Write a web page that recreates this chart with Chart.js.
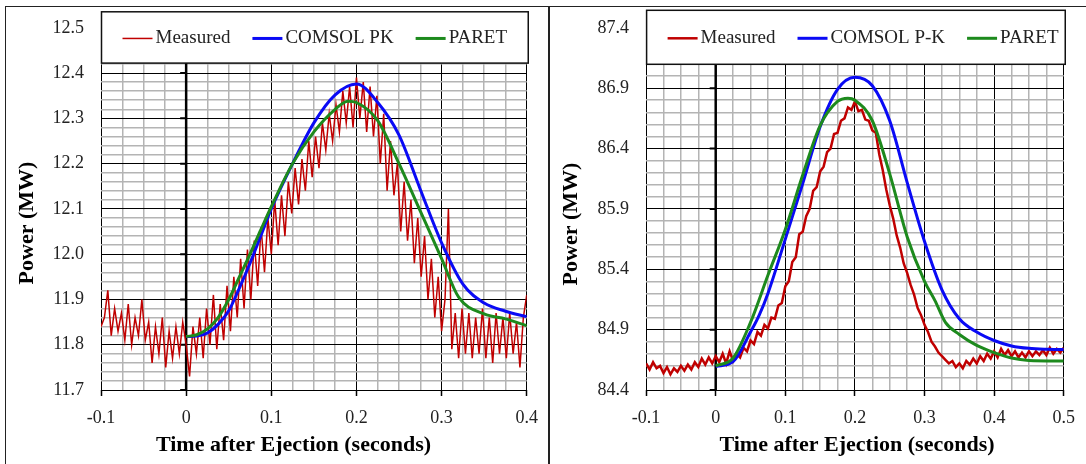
<!DOCTYPE html>
<html>
<head>
<meta charset="utf-8">
<script src="https://cdn.jsdelivr.net/npm/chart.js@4.4.1/dist/chart.umd.min.js"></script>
<style>
    html, body { margin: 0; padding: 0; background: #fff; }
    body { width: 1086px; height: 464px; position: relative; overflow: hidden; }
    .painel { position: absolute; border: 1.5px solid #222; box-sizing: border-box; }
    #painelL { left: 5px; top: 6px; width: 544px; height: 500px; }
    #painelR { left: 549px; top: 6px; width: 600px; height: 500px; }
    canvas { position: absolute; top: 0; }
    #chartL { left: 0; }
    #chartR { left: 549px; }
</style>
</head>
<body>
<div class="painel" id="painelL"></div>
<div class="painel" id="painelR"></div>
<canvas id="chartL" width="549" height="464"></canvas>
<canvas id="chartR" width="537" height="464"></canvas>
<script>
// ---- Left panel (12 MW case) ----
// measured signal, sampled every 0.004 s from -0.1 s
const measStartL = -0.1, measStepL = 0.004;
const measuredL = [
    11.84, 11.86, 11.92, 11.82, 11.88, 11.83, 11.87, 11.81, 11.89, 11.80,
    11.86, 11.82, 11.90, 11.81, 11.85, 11.76, 11.84, 11.78, 11.86, 11.75,
    11.83, 11.77, 11.84, 11.78, 11.85, 11.80, 11.73, 11.84, 11.78, 11.86,
    11.77, 11.88, 11.80, 11.91, 11.79, 11.89, 11.81, 11.93, 11.83, 11.95,
    11.86, 11.99, 11.88, 12.01, 11.90, 12.03, 11.93, 12.06, 11.96, 12.08,
    12.00, 12.12, 12.02, 12.13, 12.04, 12.16, 12.09, 12.19, 12.11, 12.21,
    12.14, 12.25, 12.17, 12.26, 12.19, 12.29, 12.23, 12.31, 12.25, 12.33,
    12.27, 12.36, 12.29, 12.37, 12.28, 12.39, 12.30, 12.38, 12.27, 12.37,
    12.26, 12.35, 12.20, 12.31, 12.14, 12.25, 12.13, 12.20, 12.05, 12.16,
    12.03, 12.12, 11.98, 12.08, 11.95, 12.04, 11.90, 11.99, 11.86, 11.95,
    11.83, 11.90, 12.10, 11.79, 11.87, 11.77, 11.88, 11.78, 11.87, 11.77,
    11.86, 11.78, 11.88, 11.77, 11.86, 11.76, 11.87, 11.78, 11.86, 11.77,
    11.87, 11.78, 11.85, 11.75, 11.86, 11.91
];
const comsolTimeL = [0, 0.0125, 0.025, 0.0375, 0.05, 0.0625, 0.075, 0.0875, 0.1, 0.125, 0.15,
    0.175, 0.2, 0.225, 0.25, 0.275, 0.3, 0.325, 0.35, 0.375, 0.4];
const comsolL = [11.818, 11.819, 11.826, 11.845, 11.875, 11.925, 11.98, 12.04, 12.10, 12.20, 12.29,
    12.352, 12.376, 12.335, 12.263, 12.143, 12.025, 11.934, 11.892, 11.874, 11.862];
const paretTimeL = [0, 0.0125, 0.025, 0.0375, 0.05, 0.0625, 0.075, 0.0875, 0.1, 0.125, 0.15,
    0.175, 0.19, 0.2, 0.225, 0.25, 0.275, 0.3, 0.32, 0.35, 0.375, 0.4];
const paretL = [11.818, 11.822, 11.835, 11.86, 11.90, 11.95, 12.0, 12.053, 12.105, 12.2, 12.27,
    12.32, 12.338, 12.335, 12.295, 12.20, 12.095, 11.99, 11.905, 11.868, 11.857, 11.842];

// ---- Right panel (85 MW case) ----
const measStartR = -0.1, measStepR = 0.005;
const measuredR = [
    84.62, 84.57, 84.63, 84.58, 84.60, 84.54, 84.59, 84.53, 84.58, 84.55,
    84.60, 84.56, 84.61, 84.57, 84.63, 84.59, 84.66, 84.61, 84.67, 84.62,
    84.68, 84.63, 84.70, 84.62, 84.72, 84.64, 84.70, 84.67, 84.75, 84.72,
    84.81, 84.78, 84.88, 84.85, 84.94, 84.91, 85.00, 84.99, 85.10, 85.12,
    85.26, 85.30, 85.46, 85.50, 85.69, 85.71, 85.84, 85.90, 86.05, 86.08,
    86.21, 86.25, 86.37, 86.40, 86.52, 86.53, 86.63, 86.65, 86.74, 86.72,
    86.79, 86.71, 86.72, 86.64, 86.63, 86.55, 86.53, 86.35, 86.22, 86.06,
    85.93, 85.82, 85.68, 85.58, 85.45, 85.37, 85.27, 85.19, 85.08, 85.02,
    84.94, 84.88, 84.80, 84.76, 84.71, 84.68, 84.65, 84.62, 84.64, 84.59,
    84.62, 84.58, 84.64, 84.61, 84.66, 84.62, 84.68, 84.64, 84.70, 84.66,
    84.72, 84.67, 84.74, 84.69, 84.73, 84.68, 84.72, 84.67, 84.71, 84.67,
    84.72, 84.68, 84.72, 84.69, 84.73, 84.69, 84.75, 84.70, 84.74, 84.71,
    84.75
];
const comsolTimeR = [0, 0.025, 0.05, 0.0625, 0.075, 0.1, 0.125, 0.15, 0.175, 0.2, 0.225, 0.25,
    0.275, 0.3, 0.325, 0.35, 0.375, 0.4, 0.425, 0.45, 0.475, 0.5];
const comsolR = [84.595, 84.635, 84.88, 85.02, 85.2, 85.65, 86.11, 86.58, 86.89, 86.99, 86.92, 86.63,
    86.12, 85.63, 85.23, 84.99, 84.88, 84.81, 84.765, 84.745, 84.738, 84.736];
const paretTimeR = [0, 0.025, 0.05, 0.075, 0.1, 0.125, 0.15, 0.175, 0.19, 0.2, 0.225, 0.25,
    0.275, 0.3, 0.315, 0.33, 0.35, 0.375, 0.4, 0.425, 0.45, 0.5];
const paretR = [84.60, 84.665, 84.96, 85.35, 85.73, 86.18, 86.59, 86.79, 86.817, 86.80, 86.63, 86.19,
    85.67, 85.30, 85.14, 84.96, 84.86, 84.77, 84.71, 84.665, 84.645, 84.64];

const RED = '#c00000';
const BLUE = '#0a0af5';
const GREEN = '#1d8a1d';
const SERIF = "'Liberation Serif', 'Times New Roman', serif";

Chart.defaults.font.family = SERIF;
Chart.defaults.font.size = 18;
Chart.defaults.color = '#222';

const isMajor = (v, base, step) => {
    const k = (v - base) / step;
    return Math.abs(k - Math.round(k)) < 1e-6;
};
const toPoints = (times, values) => values.map((v, i) => ({ x: times[i], y: v }));
const sampleTimes = (start, step, n) => Array.from({ length: n }, (_, i) => +(start + i * step).toFixed(4));

// thick vertical axis at t = 0 with its tick marks
const zeroAxis = {
    id: 'zeroAxis',
    beforeDatasetsDraw(chart, args, opts) {
        const { ctx, chartArea, scales: { x, y } } = chart;
        const px = x.getPixelForValue(0);
        ctx.save();
        ctx.strokeStyle = '#000';
        ctx.lineWidth = 2.5;
        ctx.beginPath();
        ctx.moveTo(px, chartArea.top);
        ctx.lineTo(px, chartArea.bottom + 1);
        ctx.stroke();
        ctx.lineWidth = 2;
        ctx.beginPath();
        y.ticks.forEach(t => {
            if (!isMajor(t.value, opts.base, opts.step)) return;
            const py = y.getPixelForValue(t.value);
            ctx.moveTo(px - 6, py);
            ctx.lineTo(px, py);
        });
        ctx.stroke();
        ctx.restore();
    }
};

// boxed legend laid over the top of the plot
const legendBox = {
    id: 'legendBox',
    afterDraw(chart, args, opts) {
        const { ctx, chartArea } = chart;
        const left = chartArea.left + 0.5, right = chartArea.right + 1.5;
        const top = chartArea.top + opts.top, bottom = chartArea.top + opts.bottom;
        ctx.save();
        ctx.fillStyle = '#fff';
        ctx.fillRect(left, top, right - left, bottom - top);
        ctx.strokeStyle = '#111';
        ctx.lineWidth = 1.5;
        ctx.strokeRect(left, top, right - left, bottom - top);
        ctx.font = '19px ' + SERIF;
        ctx.textBaseline = 'middle';
        ctx.textAlign = 'left';
        const cy = (top + bottom) / 2 + 1;
        let x = left + opts.inset;
        chart.data.datasets.forEach(ds => {
            ctx.strokeStyle = ds.borderColor;
            ctx.lineWidth = ds.legendWidth;
            ctx.beginPath();
            ctx.moveTo(x, cy);
            ctx.lineTo(x + 30, cy);
            ctx.stroke();
            x += 33;
            ctx.fillStyle = '#222';
            ctx.fillText(ds.label, x, cy);
            x += ctx.measureText(ds.label).width + 22;
        });
        ctx.restore();
    }
};

// axis titles (not centred on the plot in the original)
const axisTitles = {
    id: 'axisTitles',
    afterDraw(chart, args, opts) {
        const { ctx } = chart;
        ctx.save();
        ctx.fillStyle = '#000';
        ctx.font = 'bold 22px ' + SERIF;
        ctx.textAlign = 'center';
        ctx.textBaseline = 'middle';
        ctx.fillText(opts.xText, opts.xPos[0], opts.xPos[1]);
        ctx.translate(opts.yPos[0], opts.yPos[1]);
        ctx.rotate(-Math.PI / 2);
        ctx.fillText(opts.yText, 0, 0);
        ctx.restore();
    }
};

const criarPainel = (canvasId, p) => {
    const ctx = document.getElementById(canvasId);
    const xMajor = c => c.tick && isMajor(c.tick.value, p.xMin, 0.1);
    const yMajor = c => c.tick && isMajor(c.tick.value, p.yMin, p.yMajor);
    return new Chart(ctx, {
        type: 'line',
        data: {
            datasets: [
                {
                    label: 'Measured',
                    data: toPoints(sampleTimes(p.measStart, p.measStep, p.measured.length), p.measured),
                    borderColor: RED,
                    borderWidth: p.measWidth,
                    legendWidth: p.measWidth,
                    tension: 0,
                    order: 3
                },
                {
                    label: p.comsolLabel,
                    data: toPoints(p.comsolTime, p.comsol),
                    borderColor: BLUE,
                    borderWidth: 3,
                    legendWidth: 3,
                    cubicInterpolationMode: 'monotone',
                    order: 2
                },
                {
                    label: 'PARET',
                    data: toPoints(p.paretTime, p.paret),
                    borderColor: GREEN,
                    borderWidth: 3,
                    legendWidth: 3,
                    cubicInterpolationMode: 'monotone',
                    order: 1
                }
            ]
        },
        options: {
            responsive: false,
            animation: false,
            events: [],
            layout: { padding: { top: p.padTop, right: p.padRight, left: 0, bottom: 0 } },
            elements: { point: { radius: 0, hoverRadius: 0 } },
            plugins: {
                legend: { display: false },
                tooltip: { enabled: false },
                zeroAxis: { base: p.yMin, step: p.yMajor },
                legendBox: { top: p.legTop, bottom: p.legBottom, inset: 21 },
                axisTitles: {
                    xText: 'Time after Ejection (seconds)',
                    yText: 'Power (MW)',
                    xPos: p.xTitlePos,
                    yPos: p.yTitlePos
                }
            },
            scales: {
                x: {
                    type: 'linear',
                    min: p.xMin,
                    max: p.xMax,
                    afterFit: s => { s.height = 74; },
                    border: { display: false },
                    ticks: {
                        stepSize: 0.025,
                        autoSkip: false,
                        maxRotation: 0,
                        padding: 11,
                        callback: v => isMajor(v, p.xMin, 0.1) ? (Math.abs(v) < 1e-9 ? '0' : v.toFixed(1)) : ''
                    },
                    grid: {
                        color: c => xMajor(c) ? '#000' : '#b4b4b4',
                        lineWidth: c => xMajor(c) ? 1 : 1.5,
                        tickLength: 6,
                        tickWidth: 1.5,
                        tickColor: c => xMajor(c) ? '#000' : 'rgba(0,0,0,0)'
                    }
                },
                y: {
                    min: p.yMin,
                    max: p.yMax,
                    afterFit: s => { s.width = p.yWidth; },
                    border: { display: false },
                    ticks: {
                        stepSize: p.yMinor,
                        autoSkip: false,
                        padding: 17,
                        callback: v => isMajor(v, p.yMin, p.yMajor) ? v.toFixed(1) : ''
                    },
                    grid: {
                        drawTicks: false,
                        color: c => yMajor(c) ? '#000' : '#b4b4b4',
                        lineWidth: c => yMajor(c) ? 1 : 1.5
                    }
                }
            }
        },
        plugins: [zeroAxis, legendBox, axisTitles]
    });
};

criarPainel('chartL', {
    measStart: measStartL, measStep: measStepL, measured: measuredL, measWidth: 1.5,
    comsolLabel: 'COMSOL PK', comsolTime: comsolTimeL, comsol: comsolL,
    paretTime: paretTimeL, paret: paretL,
    xMin: -0.1, xMax: 0.4, yMin: 11.7, yMax: 12.5, yMinor: 0.02, yMajor: 0.1,
    yWidth: 101, padTop: 25.4, padRight: 20.4,
    legTop: -16, legBottom: 35.3,
    xTitlePos: [293.5, 445], yTitlePos: [27, 223]
});

criarPainel('chartR', {
    measStart: measStartR, measStep: measStepR, measured: measuredR, measWidth: 2.5,
    comsolLabel: 'COMSOL P-K', comsolTime: comsolTimeR, comsol: comsolR,
    paretTime: paretTimeR, paret: paretR,
    xMin: -0.1, xMax: 0.5, yMin: 84.4, yMax: 87.4, yMinor: 0.1, yMajor: 0.5,
    yWidth: 97.1, padTop: 26.8, padRight: 13.7,
    legTop: -17.5, legBottom: 36.5,
    xTitlePos: [308, 445], yTitlePos: [22, 224]
});
</script>
</body>
</html>
